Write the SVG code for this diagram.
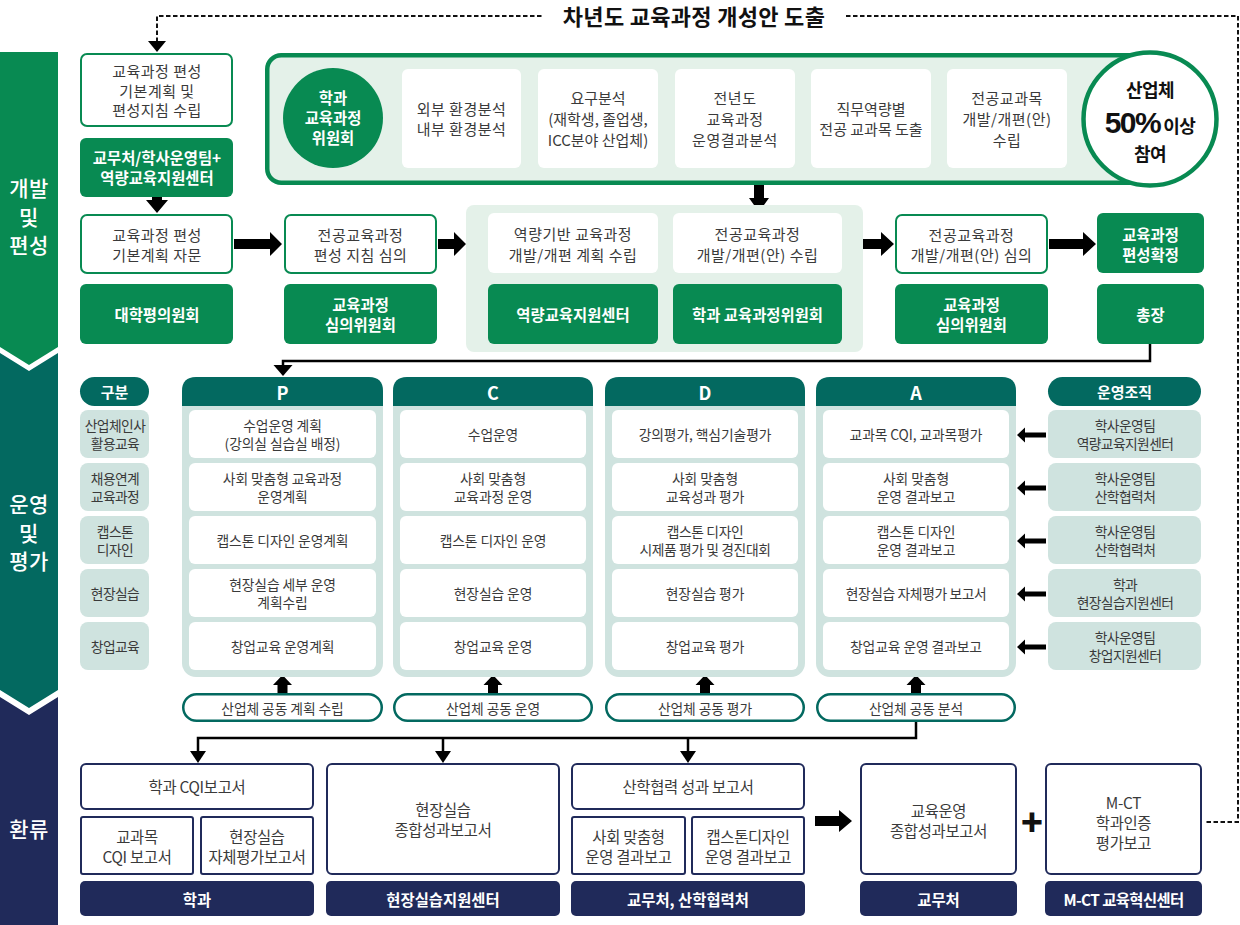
<svg xmlns="http://www.w3.org/2000/svg" width="1240" height="925" viewBox="0 0 1240 925">
<defs>
<style>
text{font-family:"Noto Sans CJK KR","Noto Sans",sans-serif;dominant-baseline:central;text-anchor:middle}
.g15{font-size:15px;fill:#3a3a3a;letter-spacing:0.5px}
.w15{font-size:15.4px;fill:#fff;font-weight:700;letter-spacing:0px}
.p14{font-size:13.8px;fill:#3a3a3a;letter-spacing:-0.1px}
.o14{font-size:13.8px;fill:#3a3a3a;letter-spacing:-0.6px}
.b15{font-size:15.4px;fill:#3a3a3a;letter-spacing:-0.3px}
.band{font-size:21px;fill:#fff;font-weight:500;letter-spacing:0.5px}
.hd{font-size:18px;fill:#fff;font-weight:700}
.wbox{fill:#fff;stroke:#088a52;stroke-width:2}
.gbox{fill:#088a52}
.pbox{fill:#fff}
.lt{fill:#cfe3df}
.teal{fill:#036960}
.pill{fill:#fff;stroke:#036960;stroke-width:2.5}
.nbox{fill:#fff;stroke:#202a5a;stroke-width:2}
.nlab{fill:#202a5a}
.arr{fill:#000}
.line{fill:none;stroke:#000;stroke-width:2.5}
.dash{fill:none;stroke:#111;stroke-width:2;stroke-dasharray:4.5 2.5}
</style>
</defs>
<rect width="1240" height="925" fill="#fff"/>

<g id="bands">
<polygon points="0,52 58,52 58,347 29,365 0,347" fill="#088a52"/>
<polygon points="0,353 29,371 58,353 58,690 29,708 0,690" fill="#036960"/>
<polygon points="0,697 29,715 58,697 58,925 0,925" fill="#202a5a"/>
<text class="band" x="29" y="187">개발<tspan x="29" dy="28.5">및</tspan><tspan x="29" dy="28.5">편성</tspan></text>
<text class="band" x="29" y="503">운영<tspan x="29" dy="28.5">및</tspan><tspan x="29" dy="28.5">평가</tspan></text>
<text class="band" x="29" y="828">환류</text>
</g>

<g id="title">
<text x="694" y="15" style="font-size:22px;font-weight:700;fill:#111;letter-spacing:0.3px">차년도 교육과정 개성안 도출</text>
</g>

<g id="connectors">
<path class="dash" d="M157,42 V16 H544 M846,16 H1238 V822 H1206"/>
<polygon class="arr" points="148,41 166,41 157,52"/>
<path class="arr" d="M152,197 H162 V200 H168 L157,213 L146,200 H152 Z"/>
<path class="arr" d="M234,239 H270 V232 L282,244 L270,256 V249 H234 Z"/>
<path class="arr" d="M438,239 H454 V232 L466,244 L454,256 V249 H438 Z"/>
<path class="arr" d="M863,239 H881 V232 L894,244 L881,256 V249 H863 Z"/>
<path class="arr" d="M1049,239 H1083 V232 L1096,244 L1083,256 V249 H1049 Z"/>
<path class="arr" d="M754,185 H764 V198 H769 L759,212 L749,198 H754 Z"/>
<path class="arr" d="M523,115 H530 V111 L536,118 L530,125 V121 H523 Z"/>
<path class="arr" d="M659,115 H666 V111 L672,118 L666,125 V121 H659 Z"/>
<path class="arr" d="M796,115 H803 V111 L809,118 L803,125 V121 H796 Z"/>
<path class="arr" d="M932,115 H939 V111 L945,118 L939,125 V121 H932 Z"/>
<path class="line" d="M1150,344 V361 H283 V366"/>
<polygon class="arr" points="273.5,365 292.5,365 283,376"/>
<path class="arr" d="M1046,432.5 H1025 V427.5 L1017,435 L1025,442.5 V437.5 H1046 Z"/>
<path class="arr" d="M1046,485.5 H1025 V480.5 L1017,488 L1025,495.5 V490.5 H1046 Z"/>
<path class="arr" d="M1046,538.5 H1025 V533.5 L1017,541 L1025,548.5 V543.5 H1046 Z"/>
<path class="arr" d="M1046,591.5 H1025 V586.5 L1017,594 L1025,601.5 V596.5 H1046 Z"/>
<path class="arr" d="M1046,644.5 H1025 V639.5 L1017,647 L1025,654.5 V649.5 H1046 Z"/>
<path class="arr" d="M277.5,694 V685 H273 L282.5,675 L292,685 H287.5 V694 Z"/>
<path class="arr" d="M488,694 V685 H483.5 L493,675 L502.5,685 H498 V694 Z"/>
<path class="arr" d="M700,694 V685 H695.5 L705,675 L714.5,685 H710 V694 Z"/>
<path class="arr" d="M911,694 V685 H906.5 L916,675 L925.5,685 H921 V694 Z"/>
<path class="line" d="M916,721 V738 H198 V752 M443,738 V752 M688,738 V752"/>
<polygon class="arr" points="190,751 206,751 198,763"/>
<polygon class="arr" points="435,751 451,751 443,763"/>
<polygon class="arr" points="680,751 696,751 688,763"/>
<path class="arr" d="M815,816 H839 V810 L852,821 L839,832 V826 H815 Z"/>
<text x="1032" y="820" style="font-size:36px;font-weight:900;fill:#111">+</text>
</g>

<g id="node-plan">
<rect class="wbox" x="81" y="54" width="151" height="72" rx="6"/>
<text class="g15" x="157" y="70">교육과정 편성<tspan x="157" dy="19.5">기본계획 및</tspan><tspan x="157" dy="19.5">편성지침 수립</tspan></text>
</g>
<g id="node-office">
<rect class="gbox" x="80" y="138" width="153" height="59" rx="6"/>
<text class="w15" x="157" y="157">교무처/학사운영팀+<tspan x="157" dy="20">역량교육지원센터</tspan></text>
</g>
<g id="node-advice">
<rect class="wbox" x="81" y="215" width="151" height="58" rx="6"/>
<text class="g15" x="157" y="234">교육과정 편성<tspan x="157" dy="19.5">기본계획 자문</tspan></text>
<rect class="gbox" x="80" y="284" width="153" height="60" rx="6"/>
<text class="w15" x="157" y="314">대학평의원회</text>
</g>
<g id="node-guide">
<rect class="wbox" x="285" y="215" width="151" height="58" rx="6"/>
<text class="g15" x="360.5" y="234">전공교육과정<tspan x="360.5" dy="19.5">편성 지침 심의</tspan></text>
<rect class="gbox" x="284" y="284" width="153" height="60" rx="6"/>
<text class="w15" x="360.5" y="304">교육과정<tspan x="360.5" dy="20">심의위원회</tspan></text>
</g>
<g id="node-develop">
<rect x="466" y="205" width="397" height="147" rx="8" fill="#e4f1e9"/>
<rect class="pbox" x="488" y="213" width="170" height="60" rx="6"/>
<text class="g15" x="573" y="233.5">역량기반 교육과정<tspan x="573" dy="20">개발/개편 계획 수립</tspan></text>
<rect class="gbox" x="488" y="284" width="170" height="60" rx="6"/>
<text class="w15" x="573" y="314">역량교육지원센터</text>
<rect class="pbox" x="673" y="213" width="169" height="60" rx="6"/>
<text class="g15" x="757.5" y="233.5">전공교육과정<tspan x="757.5" dy="20">개발/개편(안) 수립</tspan></text>
<rect class="gbox" x="673" y="284" width="169" height="60" rx="6"/>
<text class="w15" x="757.5" y="314">학과 교육과정위원회</text>
</g>
<g id="node-review">
<rect class="wbox" x="896" y="215" width="151" height="58" rx="6"/>
<text class="g15" x="971.5" y="234">전공교육과정<tspan x="971.5" dy="19.5">개발/개편(안) 심의</tspan></text>
<rect class="gbox" x="895" y="284" width="153" height="60" rx="6"/>
<text class="w15" x="971.5" y="304">교육과정<tspan x="971.5" dy="20">심의위원회</tspan></text>
</g>
<g id="node-confirm">
<rect class="gbox" x="1097" y="213" width="107" height="60" rx="6"/>
<text class="w15" x="1150.5" y="233.5">교육과정<tspan x="1150.5" dy="20">편성확정</tspan></text>
<rect class="gbox" x="1097" y="284" width="107" height="60" rx="6"/>
<text class="w15" x="1150.5" y="314">총장</text>
</g>

<g id="node-committee-panel">
<rect x="267.25" y="55.25" width="900" height="127.5" rx="14" fill="#e4f1e9" stroke="#088a52" stroke-width="4.5"/>
<circle cx="333" cy="118" r="50" fill="#088a52"/>
<text class="w15" x="333" y="97">학과<tspan x="333" dy="20">교육과정</tspan><tspan x="333" dy="20">위원회</tspan></text>
<rect class="pbox" x="402" y="69" width="119" height="99" rx="6"/>
<text class="g15" x="461.5" y="108">외부 환경분석<tspan x="461.5" dy="20">내부 환경분석</tspan></text>
<rect class="pbox" x="538" y="69" width="120" height="99" rx="6"/>
<text class="g15" x="598" y="97.5" style="letter-spacing:0px">요구분석<tspan x="598" dy="20.5">(재학생, 졸업생,</tspan><tspan x="598" dy="20.5">ICC분야 산업체)</tspan></text>
<rect class="pbox" x="675" y="69" width="120" height="99" rx="6"/>
<text class="g15" x="735" y="97.5">전년도<tspan x="735" dy="20.5">교육과정</tspan><tspan x="735" dy="20.5">운영결과분석</tspan></text>
<rect class="pbox" x="811" y="69" width="120" height="99" rx="6"/>
<text class="g15" x="871" y="108" style="letter-spacing:0px">직무역량별<tspan x="871" dy="20">전공 교과목 도출</tspan></text>
<rect class="pbox" x="947" y="69" width="120" height="99" rx="6"/>
<text class="g15" x="1007" y="97.5">전공교과목<tspan x="1007" dy="20.5">개발/개편(안)</tspan><tspan x="1007" dy="20.5">수립</tspan></text>
</g>
<g id="node-industry">
<circle cx="1150" cy="119" r="66.5" fill="#fff" stroke="#088a52" stroke-width="4.5"/>
<text x="1150" y="89" style="font-size:18px;font-weight:700;fill:#111;letter-spacing:-0.5px">산업체</text>
<text x="1150" y="122" style="font-weight:700;fill:#111"><tspan style="font-family:'Liberation Sans',sans-serif;font-size:30px;letter-spacing:-1.5px">50%</tspan><tspan style="font-size:18px;letter-spacing:-0.5px" dx="3" dy="3">이상</tspan></text>
<text x="1150" y="153" style="font-size:18px;font-weight:700;fill:#111;letter-spacing:-0.5px">참여</text>
</g>

<g id="node-category">
<rect class="teal" x="80" y="377" width="69" height="29" rx="14.5"/>
<text class="w15" x="114.5" y="391.5" style="font-size:15px">구분</text>
<rect class="lt" x="80" y="410" width="69" height="48" rx="8"/>
<text class="o14" x="115" y="425">산업체인사<tspan x="115" dy="18">활용교육</tspan></text>
<rect class="lt" x="80" y="463" width="69" height="48" rx="8"/>
<text class="o14" x="115" y="478">채용연계<tspan x="115" dy="18">교육과정</tspan></text>
<rect class="lt" x="80" y="516" width="69" height="48" rx="8"/>
<text class="o14" x="115" y="531">캡스톤<tspan x="115" dy="18">디자인</tspan></text>
<rect class="lt" x="80" y="569" width="69" height="48" rx="8"/>
<text class="o14" x="115" y="593">현장실습</text>
<rect class="lt" x="80" y="622" width="69" height="48" rx="8"/>
<text class="o14" x="115" y="646">창업교육</text>
</g>

<g id="node-P">
<rect class="lt" x="182" y="377" width="201" height="300" rx="14"/>
<path class="teal" d="M182,406 V391 Q182,377 196,377 H369 Q383,377 383,391 V406 Z"/>
<text class="hd" x="282.5" y="391.5">P</text>
<rect class="pbox" x="189" y="410" width="187" height="48" rx="6"/>
<text class="p14" x="282.5" y="425">수업운영 계획<tspan x="282.5" dy="18">(강의실 실습실 배정)</tspan></text>
<rect class="pbox" x="189" y="463" width="187" height="48" rx="6"/>
<text class="p14" x="282.5" y="478">사회 맞춤형 교육과정<tspan x="282.5" dy="18">운영계획</tspan></text>
<rect class="pbox" x="189" y="516" width="187" height="48" rx="6"/>
<text class="p14" x="282.5" y="540">캡스톤 디자인 운영계획</text>
<rect class="pbox" x="189" y="569" width="187" height="48" rx="6"/>
<text class="p14" x="282.5" y="584">현장실습 세부 운영<tspan x="282.5" dy="18">계획수립</tspan></text>
<rect class="pbox" x="189" y="622" width="187" height="48" rx="6"/>
<text class="p14" x="282.5" y="646">창업교육 운영계획</text>
<rect class="pill" x="183.25" y="694.25" width="198.5" height="26.5" rx="13.25"/>
<text class="p14" x="282.5" y="707.5">산업체 공동 계획 수립</text>
</g>

<g id="node-C">
<rect class="lt" x="393" y="377" width="200" height="300" rx="14"/>
<path class="teal" d="M393,406 V391 Q393,377 407,377 H579 Q593,377 593,391 V406 Z"/>
<text class="hd" x="493" y="391.5">C</text>
<rect class="pbox" x="400" y="410" width="186" height="48" rx="6"/>
<text class="p14" x="493" y="434">수업운영</text>
<rect class="pbox" x="400" y="463" width="186" height="48" rx="6"/>
<text class="p14" x="493" y="478">사회 맞춤형<tspan x="493" dy="18">교육과정 운영</tspan></text>
<rect class="pbox" x="400" y="516" width="186" height="48" rx="6"/>
<text class="p14" x="493" y="540">캡스톤 디자인 운영</text>
<rect class="pbox" x="400" y="569" width="186" height="48" rx="6"/>
<text class="p14" x="493" y="593">현장실습 운영</text>
<rect class="pbox" x="400" y="622" width="186" height="48" rx="6"/>
<text class="p14" x="493" y="646">창업교육 운영</text>
<rect class="pill" x="394.25" y="694.25" width="197.5" height="26.5" rx="13.25"/>
<text class="p14" x="493" y="707.5">산업체 공동 운영</text>
</g>

<g id="node-D">
<rect class="lt" x="605" y="377" width="200" height="300" rx="14"/>
<path class="teal" d="M605,406 V391 Q605,377 619,377 H791 Q805,377 805,391 V406 Z"/>
<text class="hd" x="705" y="391.5">D</text>
<rect class="pbox" x="612" y="410" width="186" height="48" rx="6"/>
<text class="p14" x="705" y="434">강의평가, 핵심기술평가</text>
<rect class="pbox" x="612" y="463" width="186" height="48" rx="6"/>
<text class="p14" x="705" y="478">사회 맞춤형<tspan x="705" dy="18">교육성과 평가</tspan></text>
<rect class="pbox" x="612" y="516" width="186" height="48" rx="6"/>
<text class="p14" x="705" y="531" style="letter-spacing:-0.4px">캡스톤 디자인<tspan x="705" dy="18">시제품 평가 및 경진대회</tspan></text>
<rect class="pbox" x="612" y="569" width="186" height="48" rx="6"/>
<text class="p14" x="705" y="593">현장실습 평가</text>
<rect class="pbox" x="612" y="622" width="186" height="48" rx="6"/>
<text class="p14" x="705" y="646">창업교육 평가</text>
<rect class="pill" x="606.25" y="694.25" width="197.5" height="26.5" rx="13.25"/>
<text class="p14" x="705" y="707.5">산업체 공동 평가</text>
</g>

<g id="node-A">
<rect class="lt" x="816" y="377" width="200" height="300" rx="14"/>
<path class="teal" d="M816,406 V391 Q816,377 830,377 H1002 Q1016,377 1016,391 V406 Z"/>
<text class="hd" x="916" y="391.5">A</text>
<rect class="pbox" x="823" y="410" width="186" height="48" rx="6"/>
<text class="p14" x="916" y="434">교과목 CQI, 교과목평가</text>
<rect class="pbox" x="823" y="463" width="186" height="48" rx="6"/>
<text class="p14" x="916" y="478">사회 맞춤형<tspan x="916" dy="18">운영 결과보고</tspan></text>
<rect class="pbox" x="823" y="516" width="186" height="48" rx="6"/>
<text class="p14" x="916" y="531">캡스톤 디자인<tspan x="916" dy="18">운영 결과보고</tspan></text>
<rect class="pbox" x="823" y="569" width="186" height="48" rx="6"/>
<text class="p14" x="916" y="593" style="letter-spacing:-0.4px">현장실습 자체평가 보고서</text>
<rect class="pbox" x="823" y="622" width="186" height="48" rx="6"/>
<text class="p14" x="916" y="646">창업교육 운영 결과보고</text>
<rect class="pill" x="817.25" y="694.25" width="197.5" height="26.5" rx="13.25"/>
<text class="p14" x="916" y="707.5">산업체 공동 분석</text>
</g>

<g id="node-org">
<rect class="teal" x="1048" y="377" width="153" height="29" rx="14.5"/>
<text class="w15" x="1124.5" y="391.5" style="font-size:15px">운영조직</text>
<rect class="lt" x="1048" y="410" width="153" height="48" rx="8"/>
<text class="o14" x="1125" y="425">학사운영팀<tspan x="1125" dy="18">역량교육지원센터</tspan></text>
<rect class="lt" x="1048" y="463" width="153" height="48" rx="8"/>
<text class="o14" x="1125" y="478">학사운영팀<tspan x="1125" dy="18">산학협력처</tspan></text>
<rect class="lt" x="1048" y="516" width="153" height="48" rx="8"/>
<text class="o14" x="1125" y="531">학사운영팀<tspan x="1125" dy="18">산학협력처</tspan></text>
<rect class="lt" x="1048" y="569" width="153" height="48" rx="8"/>
<text class="o14" x="1125" y="584">학과<tspan x="1125" dy="18">현장실습지원센터</tspan></text>
<rect class="lt" x="1048" y="622" width="153" height="48" rx="8"/>
<text class="o14" x="1125" y="637">학사운영팀<tspan x="1125" dy="18">창업지원센터</tspan></text>
</g>

<g id="node-dept-report">
<rect class="nbox" x="81" y="764" width="232" height="45" rx="5"/>
<text class="b15" x="197" y="786">학과 CQI보고서</text>
<rect class="nbox" x="81" y="817" width="112" height="57" rx="2"/>
<text class="b15" x="137" y="836">교과목<tspan x="137" dy="20">CQI 보고서</tspan></text>
<rect class="nbox" x="201" y="817" width="112" height="57" rx="2"/>
<text class="b15" x="257" y="836">현장실습<tspan x="257" dy="20">자체평가보고서</tspan></text>
<rect class="nlab" x="80" y="881" width="234" height="35" rx="5"/>
<text class="w15" x="197" y="898.5">학과</text>
</g>
<g id="node-field-report">
<rect class="nbox" x="327" y="764" width="232" height="110" rx="5"/>
<text class="b15" x="443" y="809">현장실습<tspan x="443" dy="20">종합성과보고서</tspan></text>
<rect class="nlab" x="326" y="881" width="234" height="35" rx="5"/>
<text class="w15" x="443" y="898.5">현장실습지원센터</text>
</g>
<g id="node-coop-report">
<rect class="nbox" x="572" y="764" width="232" height="45" rx="5"/>
<text class="b15" x="688" y="786">산학협력 성과 보고서</text>
<rect class="nbox" x="572" y="817" width="113" height="57" rx="2"/>
<text class="b15" x="628.5" y="836">사회 맞춤형<tspan x="628.5" dy="20">운영 결과보고</tspan></text>
<rect class="nbox" x="692" y="817" width="112" height="57" rx="2"/>
<text class="b15" x="748" y="836">캡스톤디자인<tspan x="748" dy="20">운영 결과보고</tspan></text>
<rect class="nlab" x="571" y="881" width="234" height="35" rx="5"/>
<text class="w15" x="688" y="898.5">교무처, 산학협력처</text>
</g>
<g id="node-edu-report">
<rect class="nbox" x="861" y="764" width="155" height="110" rx="5"/>
<text class="b15" x="938.5" y="810">교육운영<tspan x="938.5" dy="20">종합성과보고서</tspan></text>
<rect class="nlab" x="860" y="881" width="157" height="35" rx="5"/>
<text class="w15" x="938.5" y="898.5">교무처</text>
</g>
<g id="node-mct-report">
<rect class="nbox" x="1046" y="764" width="155" height="110" rx="5"/>
<text class="b15" x="1123.5" y="802">M-CT<tspan x="1123.5" dy="20">학과인증</tspan><tspan x="1123.5" dy="20">평가보고</tspan></text>
<rect class="nlab" x="1045" y="881" width="157" height="35" rx="5"/>
<text class="w15" x="1123.5" y="898.5" style="letter-spacing:-0.6px">M-CT 교육혁신센터</text>
</g>
</svg>
